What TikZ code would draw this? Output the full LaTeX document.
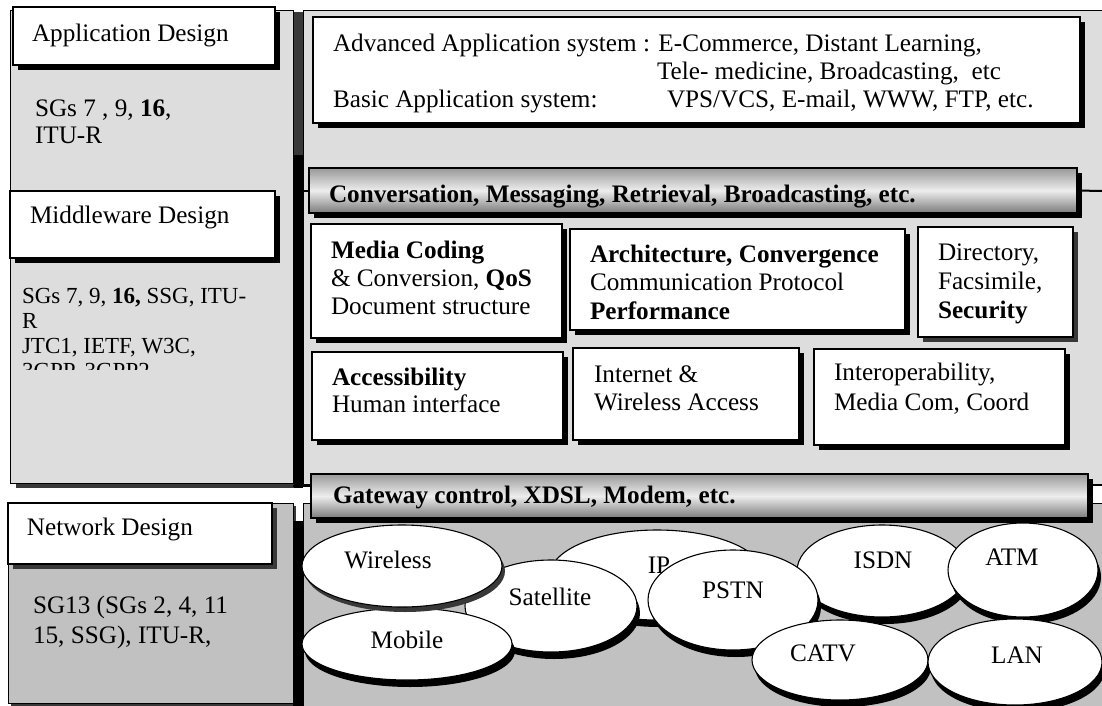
\documentclass[tikz,border=0pt]{standalone}
\usepackage{fontspec}
\setmainfont{Liberation Serif}
\usetikzlibrary{shapes.geometric,shadows}
\definecolor{panelA}{gray}{0.865}
\definecolor{panelB}{gray}{0.755}
\definecolor{shadowgray}{gray}{0.22}
\definecolor{barA}{gray}{0.60}
\definecolor{barB}{gray}{0.93}
\definecolor{barC}{gray}{0.48}
\newcommand\mainfs{\fontsize{25.2}{27}\selectfont}
\newcommand\smallfs{\fontsize{23}{25}\selectfont}
\begin{document}
\begin{tikzpicture}[x=1pt,y=-1pt,
  every node/.style={inner sep=0pt,outer sep=0pt},
  lbl/.style={anchor=base west,font=\mainfs},
  smalllbl/.style={anchor=base west,font=\smallfs},
  elbl/.style={anchor=center,font=\mainfs},
  blackshadow/.style={drop shadow={shadow xshift=5pt,shadow yshift=-5pt,fill=black,opacity=1}},
  grayshadow/.style={drop shadow={shadow xshift=5pt,shadow yshift=-5pt,fill=shadowgray,opacity=1}},
  box/.style={draw=black,line width=1.1pt,fill=white,anchor=north west},
  panel/.style={draw=black,line width=0.9pt,anchor=north west},
  bar/.style={draw=black,line width=1.1pt,anchor=north west,top color=barA,bottom color=barC,middle color=barB,blackshadow},
  ell/.style={ellipse,draw=black,line width=1.1pt,fill=white,drop shadow={shadow xshift=3pt,shadow yshift=-7pt,fill=black,opacity=1}},
  ellg/.style={ellipse,draw=black,line width=1.1pt,fill=white,drop shadow={shadow xshift=3pt,shadow yshift=-5pt,fill=shadowgray,opacity=1}},
  conn/.style={draw=black,line width=2pt}
]
\clip (0,0) rectangle (1102,706);
\fill[white] (0,0) rectangle (1102,706);

% ---------- panels ----------
\node[panel,fill=panelA,minimum width=283,minimum height=473,drop shadow={shadow xshift=6pt,shadow yshift=-5pt,fill=shadowgray,opacity=1}] (pAL) at (10,10) {};
\fill[shadowgray] (294,12) rectangle (303,155);
\fill[black] (294,155) rectangle (303,488);
\node[panel,fill=panelA,minimum width=812,minimum height=474] (pAR) at (303,10) {};
\node[panel,fill=panelB,minimum width=285,minimum height=200,drop shadow={shadow xshift=3pt,shadow yshift=-3pt,fill=shadowgray,opacity=1}] (pBL) at (8,503) {};
\fill[black] (293,521) rectangle (303,706);
\node[panel,fill=panelB,minimum width=812,minimum height=210] (pBR) at (303,503) {};

% ---------- left column ----------
\node[box,blackshadow,minimum width=262,minimum height=58] (appbox) at (13,7) {};
\node[lbl] (apptitle) at (32,42) {Application Design};
\node[lbl] (appsg1) at (35,117) {SGs 7 , 9, \textbf{16},};
\node[lbl] (appsg2) at (35,143) {ITU-R};

\node[box,blackshadow,minimum width=265,minimum height=67] (midbox) at (10,191) {};
\node[lbl] (midtitle) at (30,223) {Middleware Design};
\node[smalllbl] (midsg1) at (22,303) {SGs 7, 9, \textbf{16,} SSG, ITU-};
\node[smalllbl] (midsg2) at (22,328) {R};
\node[smalllbl] (midsg3) at (22,353) {JTC1, IETF, W3C,};
\begin{scope}
\clip (12,355) rectangle (290,369);
\node[smalllbl] (midsg4) at (22,378) {3GPP, 3GPP2};
\end{scope}

\node[box,grayshadow,minimum width=264,minimum height=61] (netbox) at (8,503) {};
\node[lbl] (nettitle) at (27,535) {Network Design};
\node[lbl] (netsg1) at (33,613) {SG13 (SGs 2, 4, 11};
\node[lbl] (netsg2) at (33,643) {15, SSG), ITU-R,};

% ---------- application systems ----------
\node[box,blackshadow,minimum width=767,minimum height=106] (advbox) at (313,17) {};
\node[lbl] (adv1) at (333,52) {Advanced Application system : E-Commerce, Distant Learning,};
\node[lbl] (adv2) at (657,80) {Tele- medicine, Broadcasting,\ \ etc};
\node[lbl] (adv3a) at (333,107) {Basic Application system:};
\node[lbl] (adv3b) at (667,107) {VPS/VCS, E-mail, WWW, FTP, etc.};

% ---------- conversation bar ----------
\node[bar,minimum width=768,minimum height=45] (conv) at (309,168) {};
\node[lbl,font=\mainfs\bfseries] (convt) at (329,202) {Conversation, Messaging, Retrieval, Broadcasting, etc.};
\coordinate (convR) at (1102,191);
\draw[conn] (conv.east) -- (convR);
\draw[conn] (pAR.west |- conv.west) -- (conv.west);

% ---------- middleware boxes ----------
\node[box,blackshadow,minimum width=251,minimum height=114] (media) at (311,224) {};
\node[lbl] (media1) at (331,258) {\textbf{Media Coding}};
\node[lbl] (media2) at (331,286) {\& Conversion, \textbf{QoS}};
\node[lbl] (media3) at (331,314) {Document structure};

\node[box,blackshadow,minimum width=335,minimum height=101] (arch) at (570,229) {};
\node[lbl] (arch1) at (590,262) {\textbf{Architecture, Convergence}};
\node[lbl] (arch2) at (590,290) {Communication Protocol};
\node[lbl] (arch3) at (590,319) {\textbf{Performance}};

\node[box,grayshadow,minimum width=155,minimum height=110] (dir) at (918,227) {};
\node[lbl] (dir1) at (938,260) {Directory,};
\node[lbl] (dir2) at (938,289) {Facsimile,};
\node[lbl] (dir3) at (938,318) {\textbf{Security}};

\node[box,blackshadow,minimum width=251,minimum height=88] (access) at (312,352) {};
\node[lbl] (access1) at (332,385) {\textbf{Accessibility}};
\node[lbl] (access2) at (332,412) {Human interface};

\node[box,blackshadow,minimum width=226,minimum height=92] (inet) at (573,348) {};
\node[lbl] (inet1) at (594,382) {Internet \&};
\node[lbl] (inet2) at (594,410) {Wireless Access};

\node[box,blackshadow,minimum width=251,minimum height=96] (interop) at (814,349) {};
\node[lbl] (interop1) at (834,380) {Interoperability,};
\node[lbl] (interop2) at (834,410) {Media Com, Coord};

% ---------- gateway bar ----------
\node[bar,minimum width=777,minimum height=44] (gw) at (311,474) {};
\node[lbl,font=\mainfs\bfseries] (gwt) at (333,503) {Gateway control, XDSL, Modem, etc.};
\coordinate (gwR) at (1102,485);
\coordinate (gwL) at (293,486);
\draw[conn] (gw.east |- gwR) -- (gwR);
\draw[conn] (gwL) -- (gw.west |- gwL);

% ---------- networks ----------
\node[ell,minimum width=214,minimum height=90] (ip) at (657,575) {};
\node[elbl] (ipt) at (659,565) {IP};
\node[ell,minimum width=172,minimum height=92] (sat) at (551,606) {};
\node[elbl] (satt) at (550,597) {Satellite};
\node[ell,minimum width=210,minimum height=72] (mob) at (407,644) {};
\node[elbl] (mobt) at (407,640) {Mobile};
\node[ellg,minimum width=200,minimum height=82] (wl) at (402,566) {};
\node[elbl] (wlt) at (388,560) {Wireless};
\node[ell,minimum width=170,minimum height=92] (isdn) at (882,571) {};
\node[elbl] (isdnt) at (883,560) {ISDN};
\node[ell,minimum width=170,minimum height=100] (pstn) at (733,600) {};
\node[elbl] (pstnt) at (733,590) {PSTN};
\node[ell,minimum width=150,minimum height=94] (atm) at (1023,570) {};
\node[elbl] (atmt) at (1012,557) {ATM};
\node[ell,minimum width=176,minimum height=80] (catv) at (840,660) {};
\node[elbl] (catvt) at (823,653) {CATV};
\node[ell,minimum width=174,minimum height=86] (lan) at (1015,662) {};
\node[elbl] (lant) at (1017,655) {LAN};
\end{tikzpicture}
\end{document}
